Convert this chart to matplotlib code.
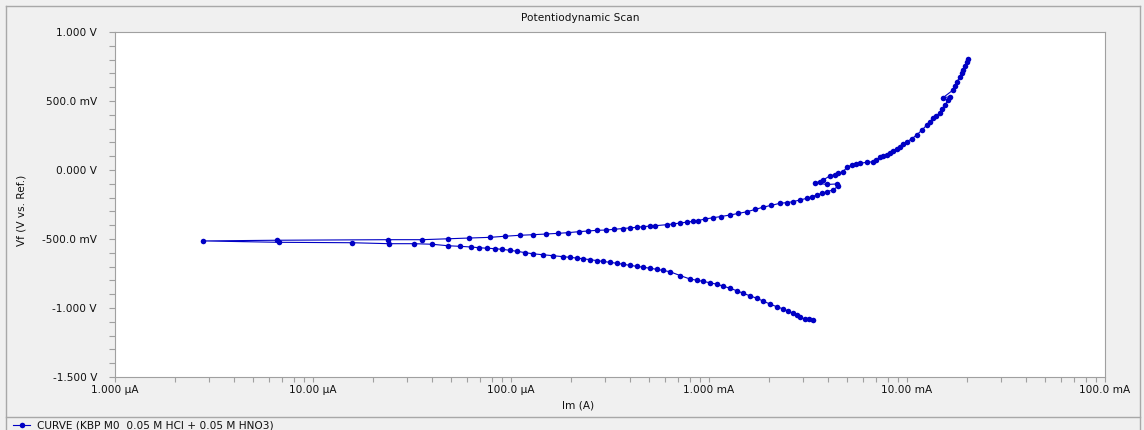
import matplotlib
matplotlib.use("Agg")
import matplotlib.pyplot as plt
from matplotlib.lines import Line2D
from matplotlib.ticker import FixedLocator, LogLocator, MultipleLocator, NullFormatter

plt.rcParams['font.family'] = ['DejaVu Sans']

# ---- data: current (A) and potential (V), in scan order ----
current_cathodic = [3.35e-3, 3.20e-3, 3.06e-3, 2.88e-3, 2.78e-3, 2.65e-3, 2.51e-3, 2.37e-3,
                    2.20e-3, 2.03e-3, 1.87e-3, 1.75e-3, 1.61e-3, 1.49e-3, 1.38e-3, 1.28e-3,
                    1.18e-3, 1.10e-3, 1.01e-3, 9.33e-4, 8.69e-4, 8.02e-4, 7.15e-4, 6.35e-4,
                    5.86e-4, 5.46e-4, 5.04e-4, 4.65e-4, 4.33e-4, 3.99e-4, 3.68e-4, 3.43e-4,
                    3.16e-4, 2.92e-4, 2.72e-4, 2.51e-4, 2.31e-4, 2.15e-4, 1.99e-4, 1.83e-4,
                    1.63e-4, 1.45e-4, 1.29e-4, 1.18e-4, 1.07e-4, 9.89e-5, 9.02e-5, 8.30e-5,
                    7.57e-5, 6.89e-5, 6.28e-5, 5.52e-5, 4.81e-5, 3.99e-5, 3.24e-5, 2.42e-5,
                    1.57e-5, 6.73e-6, 2.78e-6]
potential_cathodic = [-1.087, -1.083, -1.080, -1.067, -1.054, -1.038, -1.023, -1.007,
                      -0.991, -0.971, -0.949, -0.930, -0.912, -0.893, -0.875, -0.857,
                      -0.842, -0.828, -0.817, -0.807, -0.799, -0.790, -0.765, -0.737,
                      -0.728, -0.720, -0.712, -0.705, -0.698, -0.691, -0.683, -0.676,
                      -0.669, -0.662, -0.656, -0.650, -0.643, -0.638, -0.633, -0.628,
                      -0.621, -0.614, -0.607, -0.599, -0.589, -0.582, -0.575, -0.570,
                      -0.567, -0.563, -0.558, -0.553, -0.549, -0.538, -0.534, -0.534,
                      -0.527, -0.524, -0.514]

current_anodic = [6.58e-6, 2.39e-5, 3.56e-5, 4.81e-5, 6.14e-5, 7.83e-5, 9.33e-5, 1.11e-4,
                  1.29e-4, 1.50e-4, 1.73e-4, 1.94e-4, 2.20e-4, 2.45e-4, 2.72e-4, 3.02e-4,
                  3.31e-4, 3.68e-4, 3.99e-4, 4.33e-4, 4.65e-4, 5.04e-4, 5.33e-4, 6.14e-4,
                  6.58e-4, 7.15e-4, 7.74e-4, 8.30e-4, 8.79e-4, 9.55e-4, 1.05e-3, 1.15e-3,
                  1.28e-3, 1.40e-3, 1.56e-3, 1.71e-3, 1.87e-3, 2.06e-3, 2.29e-3, 2.48e-3,
                  2.65e-3, 2.88e-3, 3.13e-3, 3.31e-3, 3.51e-3, 3.72e-3, 3.94e-3, 4.23e-3,
                  4.49e-3, 4.43e-3, 3.94e-3, 3.43e-3, 3.64e-3, 3.77e-3, 4.08e-3, 4.33e-3,
                  4.49e-3, 4.75e-3, 4.98e-3, 5.27e-3, 5.52e-3, 5.79e-3, 6.28e-3, 6.73e-3,
                  6.97e-3, 7.31e-3, 7.57e-3, 7.93e-3, 8.20e-3, 8.49e-3, 8.89e-3, 9.23e-3,
                  9.55e-3, 1.00e-2, 1.06e-2, 1.12e-2, 1.19e-2, 1.26e-2, 1.31e-2, 1.35e-2,
                  1.40e-2, 1.47e-2, 1.50e-2, 1.56e-2, 1.61e-2, 1.65e-2, 1.52e-2, 1.71e-2,
                  1.75e-2, 1.79e-2, 1.85e-2, 1.90e-2, 1.92e-2, 1.96e-2, 2.01e-2, 2.03e-2]
potential_anodic = [-0.509, -0.505, -0.505, -0.498, -0.493, -0.488, -0.480, -0.473,
                    -0.469, -0.464, -0.459, -0.454, -0.447, -0.442, -0.437, -0.435,
                    -0.430, -0.425, -0.420, -0.415, -0.411, -0.406, -0.404, -0.396,
                    -0.391, -0.384, -0.377, -0.372, -0.367, -0.355, -0.346, -0.337,
                    -0.326, -0.315, -0.302, -0.286, -0.270, -0.256, -0.241, -0.236,
                    -0.230, -0.217, -0.205, -0.193, -0.181, -0.169, -0.157, -0.145,
                    -0.116, -0.101, -0.105, -0.092, -0.085, -0.072, -0.043, -0.033,
                    -0.024, -0.012, 0.020, 0.036, 0.043, 0.049, 0.056, 0.060,
                    0.072, 0.091, 0.101, 0.109, 0.121, 0.138, 0.152, 0.167,
                    0.185, 0.205, 0.228, 0.254, 0.290, 0.326, 0.351, 0.375,
                    0.391, 0.415, 0.442, 0.471, 0.507, 0.531, 0.524, 0.580,
                    0.609, 0.640, 0.676, 0.703, 0.725, 0.754, 0.785, 0.802]

x_ticks = [1e-6, 1e-5, 1e-4, 1e-3, 1e-2, 1e-1]
x_tick_labels = ['1.000 µA', '10.00 µA', '100.0 µA', '1.000 mA', '10.00 mA', '100.0 mA']
y_ticks = [1.0, 0.5, 0.0, -0.5, -1.0, -1.5]
y_tick_labels = ['1.000 V', '500.0 mV', '0.000 V', '-500.0 mV', '-1.000 V', '-1.500 V']

title = 'Potentiodynamic Scan'
x_label = 'Im (A)'
y_label = 'Vf (V vs. Ref.)'
legend_label = 'CURVE (KBP M0  0.05 M HCl + 0.05 M HNO3)'

# ---- figure ----
W, H = 1144, 430
fig = plt.figure(figsize=(W / 100, H / 100), dpi=100, facecolor='#f0f0f0')

def fx(px):
    return px / W

def fy(py):
    return 1 - py / H

ax = fig.add_axes([fx(115), fy(377), fx(1105) - fx(115), fy(32) - fy(377)])
ax.set_facecolor('white')

current = current_cathodic + current_anodic
potential = potential_cathodic + potential_anodic
color = '#0000c4'
ax.plot(current, potential, '-', color=color, lw=0.8, marker='o', ms=4.0,
        mec=color, mfc=color, mew=0)

ax.set_xscale('log')
ax.set_xlim(1e-6, 1e-1)
ax.set_ylim(-1.5, 1.0)
ax.xaxis.set_major_locator(FixedLocator(x_ticks))
ax.set_xticklabels(x_tick_labels)
ax.xaxis.set_minor_locator(LogLocator(base=10, subs=range(2, 10)))
ax.xaxis.set_minor_formatter(NullFormatter())
ax.yaxis.set_major_locator(FixedLocator(y_ticks))
ax.set_yticklabels(y_tick_labels)
ax.yaxis.set_minor_locator(MultipleLocator(0.1))

spine_c = '#a0a0a0'
for s in ax.spines.values():
    s.set_color(spine_c)
    s.set_linewidth(0.8)
fs = 7.6
ax.tick_params(axis='both', which='both', direction='out', color=spine_c,
               labelsize=fs, labelcolor='#111111', width=0.8)
ax.tick_params(axis='y', which='both', length=4, pad=9)
ax.tick_params(axis='x', which='both', length=3.5, pad=2)

fig.text(fx(580), fy(18), title, ha='center', va='center', fontsize=fs, color='#111111')
fig.text(fx(578), fy(405), x_label, ha='center', va='center', fontsize=fs, color='#111111')
fig.text(fx(22), fy(210), y_label, ha='center', va='center', fontsize=fs,
         rotation=90, color='#111111')

# frame lines
lc = '#a8a8a8'
fig.add_artist(Line2D([fx(6), fx(6)], [fy(6), fy(430)], color=lc, lw=1))
fig.add_artist(Line2D([fx(6), fx(1140)], [fy(6), fy(6)], color=lc, lw=1))
fig.add_artist(Line2D([fx(1140), fx(1140)], [fy(6), fy(430)], color=lc, lw=1))
fig.add_artist(Line2D([fx(6), fx(1140)], [fy(417), fy(417)], color=lc, lw=1))

# legend
fig.add_artist(Line2D([fx(13), fx(30)], [fy(425), fy(425)], color=color, lw=0.8))
fig.add_artist(Line2D([fx(21.5)], [fy(425)], color=color, marker='o', ms=4.0, mew=0))
fig.text(fx(37), fy(425), legend_label, ha='left', va='center', fontsize=fs, color='#111111')

fig.savefig('out.png', dpi=100, facecolor=fig.get_facecolor())
